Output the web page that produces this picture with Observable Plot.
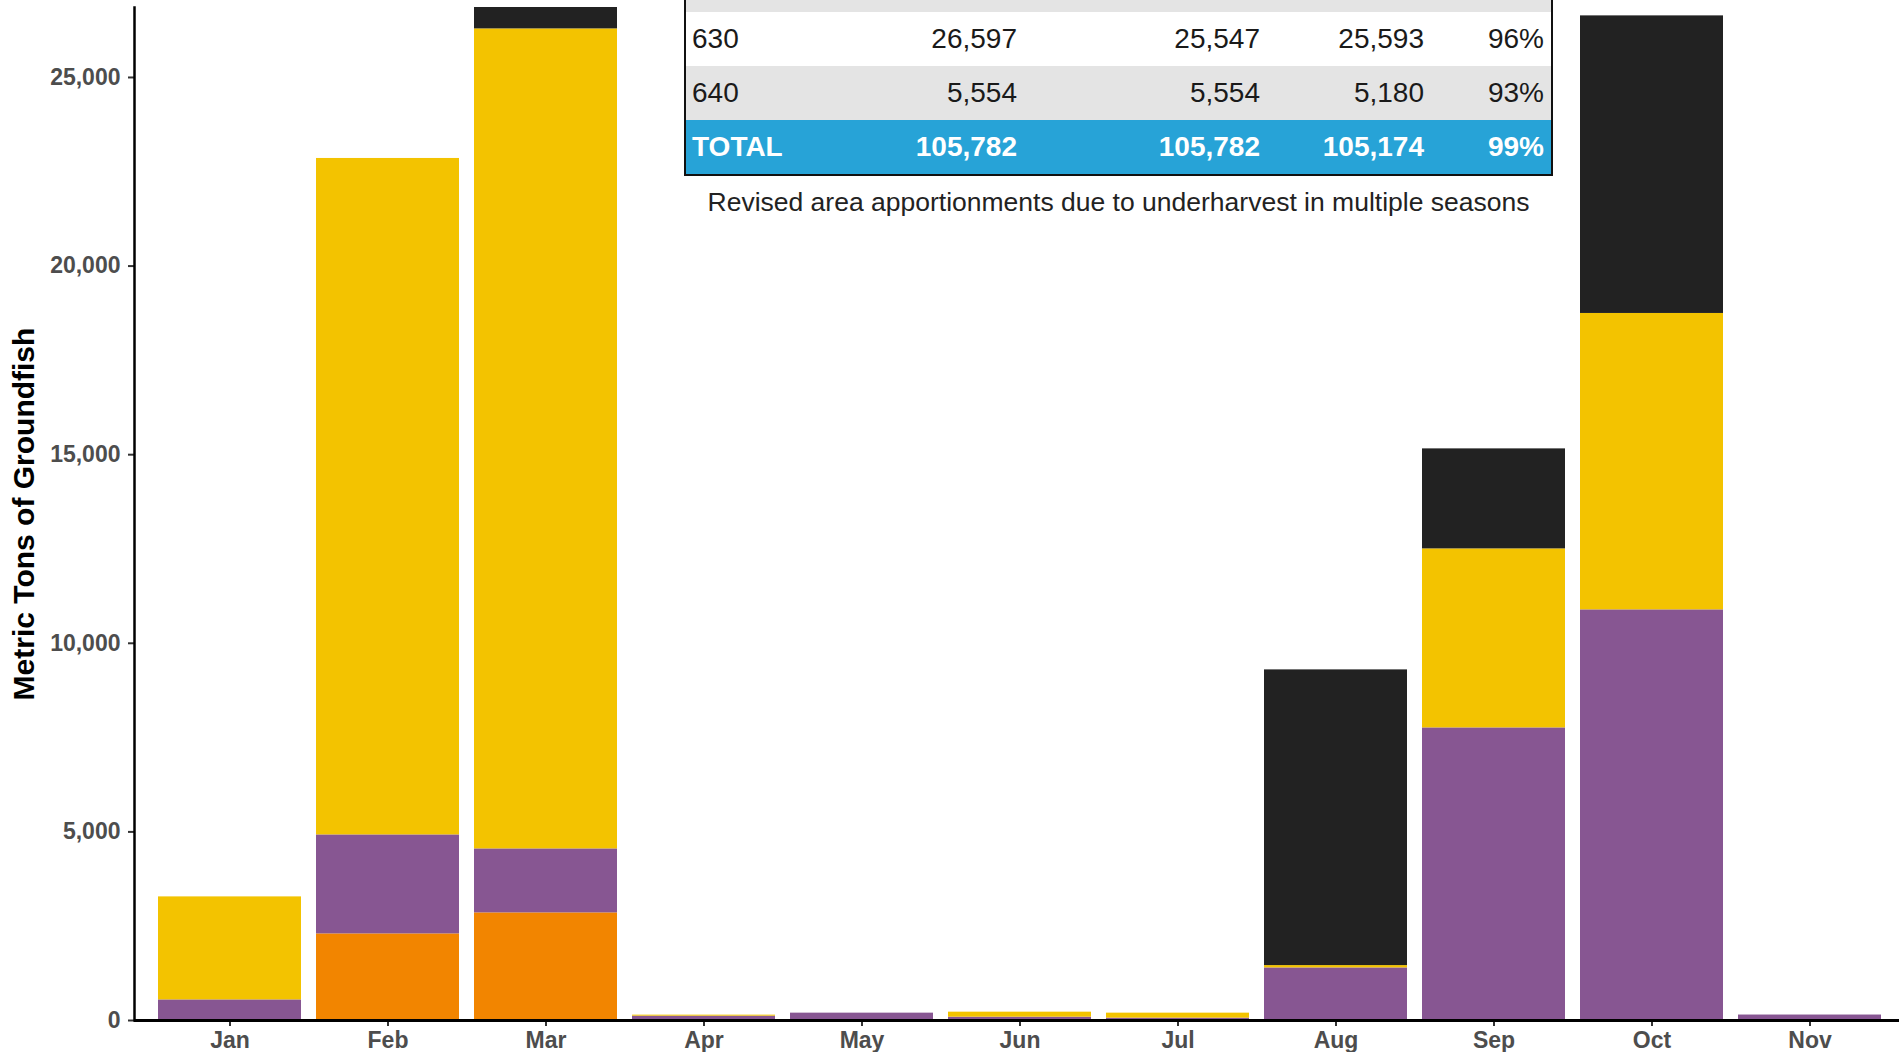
<!DOCTYPE html>
<html>
<head>
<meta charset="utf-8">
<script src="https://cdn.jsdelivr.net/npm/d3@7"></script>
<script src="https://cdn.jsdelivr.net/npm/@observablehq/plot@0.6"></script>
<style>
  html, body { margin: 0; padding: 0; background: #fff; overflow: hidden; }
  #wrap { position: relative; width: 1899px; height: 1052px; }
  #chart { position: absolute; left: 0; top: 0; }
  #tbl {
    position: absolute; left: 684px; top: 0; width: 865px;
    border: 2px solid #111; border-top: none;
    font-family: "Liberation Sans", Arial, sans-serif; font-size: 28px; color: #1a1a1a;
    background: #fff;
  }
  #tbl table { border-collapse: collapse; border-spacing: 0; width: 865px; table-layout: fixed; }
  #tbl td { padding: 0 7px; height: 54px; line-height: 30px; white-space: nowrap; text-align: right; }
  #tbl td:first-child { text-align: left; padding-left: 6px; }
  #tbl tr.strip td { height: 12px; padding: 0; line-height: 0; font-size: 0; }
  #tbl tr.gray td { background: #e4e4e4; }
  #tbl tr.total td { background: #27a3d7; color: #fff; font-weight: bold; }
  #caption {
    position: absolute; left: 684px; top: 186px; width: 869px; text-align: center;
    font-family: "Liberation Sans", Arial, sans-serif; font-size: 26.5px; color: #222; line-height: 32px;
  }
</style>
</head>
<body>
<div id="wrap">
  <div id="chart"></div>
  <div id="tbl"></div>
  <div id="caption"></div>
</div>
<script>
// ---- data ----
const months = ["Jan","Feb","Mar","Apr","May","Jun","Jul","Aug","Sep","Oct","Nov"];
// stacked from bottom to top
const seriesNames = ["640","630","620","610"];
const seriesColors = ["#f28500","#875692","#f3c300","#222222"];
const area640 = [0, 2296, 2853, 0, 0, 0, 0, 0, 0, 0, 0];
const area630 = [546, 2624, 1696, 115, 195, 88, 62, 1394, 7757, 10886, 145];
const area620 = [2731, 17933, 21739, 27, 0, 133, 133, 62, 4746, 7858, 0];
const area610 = [0, 0, 567, 0, 0, 0, 0, 7839, 2651, 7889, 0];
const yTicks = [0, 5000, 10000, 15000, 20000, 25000];
const yLabel = "Metric Tons of Groundfish";

// table (top rows cut off in the original)
const tableAreas = ["630", "640", "TOTAL"];
const tableCol2 = ["26,597", "5,554", "105,782"];
const tableCol3 = ["25,547", "5,554", "105,782"];
const tableCol4 = ["25,593", "5,180", "105,174"];
const tableCol5 = ["96%", "93%", "99%"];
const captionText = "Revised area apportionments due to underharvest in multiple seasons";

// ---- build long table ----
const seriesValues = [area640, area630, area620, area610];
const rows = [];
seriesNames.forEach((s, i) => {
  months.forEach((m, j) => rows.push({month: m, series: s, value: seriesValues[i][j]}));
});

const fmt = d3.format(",");
const W = 1899, H = 1052;
const chart = Plot.plot({
  width: W,
  height: H,
  marginLeft: 134,
  marginRight: 0,
  marginTop: 7,
  marginBottom: 32,
  style: {fontFamily: "'Liberation Sans', Arial, sans-serif", fontSize: "23px", fontWeight: "bold", color: "#4d4d4d", background: "transparent"},
  x: {domain: months, paddingInner: 0.096, paddingOuter: 0.1265, align: 0.575, tickSize: 6, tickPadding: 5, label: null},
  y: {ticks: yTicks, tickFormat: d => fmt(d), tickSize: 6, tickPadding: 8, label: yLabel, labelAnchor: "center", labelArrow: "none", labelOffset: 122},
  color: {domain: seriesNames, range: seriesColors},
  marks: [
    Plot.barY(rows, {x: "month", y: "value", fill: "series", order: seriesNames}),
    Plot.ruleY([0], {stroke: "#000", strokeWidth: 3}),
    Plot.frame({anchor: "left", stroke: "#000", strokeWidth: 2.5})
  ]
});
document.getElementById("chart").appendChild(chart);

// style the y-axis label
d3.select(chart).selectAll("[aria-label='y-axis label'] text").attr("fill", "#000").style("font-size", "30px");
d3.select(chart).selectAll("[aria-label='y-axis label']").attr("fill", "#000").style("font-size", "30px");
d3.select(chart).selectAll("[aria-label$='tick'] path").attr("stroke", "#333").attr("stroke-width", 2);

// ---- HTML table ----
const tbl = d3.select("#tbl").append("table");
const cg = tbl.append("colgroup");
[164, 174, 243, 164, 120].forEach(w => cg.append("col").style("width", w + "px"));
const strip = tbl.append("tr").attr("class", "strip gray");
for (let k = 0; k < 5; k++) strip.append("td");
tableAreas.forEach((a, i) => {
  const cls = a === "TOTAL" ? "total" : (i % 2 === 1 ? "gray" : "white");
  const tr = tbl.append("tr").attr("class", cls);
  [a, tableCol2[i], tableCol3[i], tableCol4[i], tableCol5[i]].forEach(v => tr.append("td").text(v));
});
d3.select("#caption").text(captionText);
</script>
</body>
</html>
